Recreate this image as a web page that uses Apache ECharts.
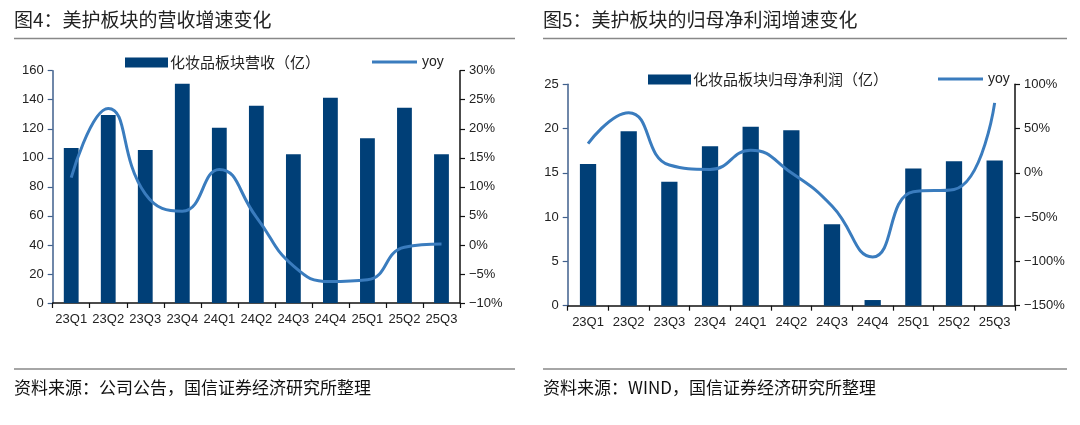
<!DOCTYPE html>
<html><head><meta charset="utf-8">
<script src="https://cdn.jsdelivr.net/npm/echarts@6/dist/echarts.min.js"></script>
<style>html,body{margin:0;padding:0;background:#fff}#c{width:1080px;height:425px}</style>
</head><body><div id="c"></div>
<script>
const categories = ['23Q1','23Q2','23Q3','23Q4','24Q1','24Q2','24Q3','24Q4','25Q1','25Q2','25Q3'];
const revenue = [106.7, 129.5, 105.4, 151.0, 120.7, 135.9, 102.4, 141.4, 113.4, 134.5, 102.4];
const revenueYoy = [11.6, 23.5, 8.8, 5.8, 13.0, 4.8, -3.6, -6.3, -6.0, -0.4, 0.15];
const profit = [16.0, 19.7, 14.0, 18.0, 20.2, 19.8, 9.2, 0.64, 15.5, 16.3, 16.4];
const profitYoy = [33, 68, 8.8, 3.9, 25.5, 0, -37.5, -95, -21.3, -18.7, 79];
const titles = ['图4：美护板块的营收增速变化', '图5：美护板块的归母净利润增速变化'];
const sources = ['资料来源：公司公告，国信证券经济研究所整理', '资料来源：WIND，国信证券经济研究所整理'];
const barNames = ['化妆品板块营收（亿）', '化妆品板块归母净利润（亿）'];
const lineName = 'yoy';

const BAR = '#003F77', LINE = '#3A7CBE';
const NUMFONT = "'Liberation Sans', Arial, 'Noto Sans CJK SC', sans-serif";
const CJK = "'Noto Sans CJK SC', sans-serif";
const pct = v => (v < 0 ? '\u2212' + Math.abs(v) : v) + '%';

function xAxis(gi){
  return {type:'category', gridIndex:gi, data:categories, boundaryGap:true,
    axisLine:{lineStyle:{color:'#111', width:1.5}},
    axisTick:{show:true, alignWithLabel:false, interval:0, length:5, lineStyle:{color:'#111', width:1.2}},
    axisLabel:{color:'#222', fontSize:13, fontFamily:NUMFONT, margin:10, interval:0}};
}
function yLeft(gi, max, interval){
  return {type:'value', gridIndex:gi, min:0, max:max, interval:interval,
    splitLine:{show:false},
    axisLine:{show:true, lineStyle:{color:'#3F5F8C', width:1.5}},
    axisTick:{show:true, length:5, lineStyle:{color:'#3F5F8C', width:1.2}},
    axisLabel:{color:'#222', fontSize:13, fontFamily:NUMFONT, margin:9}};
}
function yRight(gi, min, max, interval){
  return {type:'value', gridIndex:gi, position:'right', min:min, max:max, interval:interval,
    splitLine:{show:false},
    axisLine:{show:true, lineStyle:{color:'#111', width:1.5}},
    axisTick:{show:true, length:5, lineStyle:{color:'#111', width:1.2}},
    axisLabel:{color:'#222', fontSize:13, fontFamily:NUMFONT, margin:9, formatter:pct}};
}
function legendBar(name, left, top){
  return {left:left, top:top, padding:0, itemWidth:43, itemHeight:10, itemGap:0,
    data:[{name:name, icon:'rect'}],
    textStyle:{fontSize:15, color:'#222', fontFamily:CJK, padding:[0,0,0,-3]}};
}
function legendLine(left, top){
  return {left:left, top:top, padding:0, itemWidth:45, itemHeight:3, itemGap:0,
    data:[{name:lineName, icon:'rect'}],
    textStyle:{fontSize:14, color:'#222', fontFamily:NUMFONT, padding:[0,0,0,0]}};
}

const chart = echarts.init(document.getElementById('c'));
chart.setOption({
  animation:false,
  backgroundColor:'#fff',
  title:[
    {text:titles[0], left:14, top:10, padding:0, textStyle:{fontSize:19, fontWeight:'normal', color:'#222', fontFamily:CJK}},
    {text:titles[1], left:543, top:10, padding:0, textStyle:{fontSize:19, fontWeight:'normal', color:'#222', fontFamily:CJK}},
    {text:sources[0], left:14, top:379, padding:0, textStyle:{fontSize:17, fontWeight:'normal', color:'#111', fontFamily:CJK}},
    {text:sources[1], left:543, top:379, padding:0, textStyle:{fontSize:17, fontWeight:'normal', color:'#111', fontFamily:CJK}}
  ],
  graphic:[
    {type:'line', shape:{x1:14, y1:38.5, x2:515, y2:38.5}, style:{stroke:'#888', lineWidth:1.5}},
    {type:'line', shape:{x1:543, y1:38.5, x2:1067, y2:38.5}, style:{stroke:'#888', lineWidth:1.5}},
    {type:'line', shape:{x1:14, y1:369, x2:515, y2:369}, style:{stroke:'#888', lineWidth:1.5}},
    {type:'line', shape:{x1:543, y1:369, x2:1067, y2:369}, style:{stroke:'#888', lineWidth:1.5}}
  ],
  legend:[
    legendBar(barNames[0], 125, 55),
    legendLine(372, 55),
    legendBar(barNames[1], 648, 72),
    legendLine(938, 72)
  ],
  grid:[
    {left:52.7, top:70.7, width:407.3, height:232.3},
    {left:567.7, top:84.3, width:447.3, height:221.4}
  ],
  xAxis:[xAxis(0), xAxis(1)],
  yAxis:[yLeft(0,160,20), yRight(0,-10,30,5), yLeft(1,25,5), yRight(1,-150,100,50)],
  series:[
    {name:barNames[0], type:'bar', xAxisIndex:0, yAxisIndex:0, data:revenue, barWidth:'40%', itemStyle:{color:BAR}},
    {name:lineName, type:'line', xAxisIndex:0, yAxisIndex:1, data:revenueYoy, smooth:true, symbol:'none', lineStyle:{color:LINE, width:3}, itemStyle:{color:LINE}},
    {name:barNames[1], type:'bar', xAxisIndex:1, yAxisIndex:2, data:profit, barWidth:'40%', itemStyle:{color:BAR}},
    {name:lineName, type:'line', xAxisIndex:1, yAxisIndex:3, data:profitYoy, smooth:true, symbol:'none', lineStyle:{color:LINE, width:3}, itemStyle:{color:LINE}}
  ]
});
</script></body></html>
